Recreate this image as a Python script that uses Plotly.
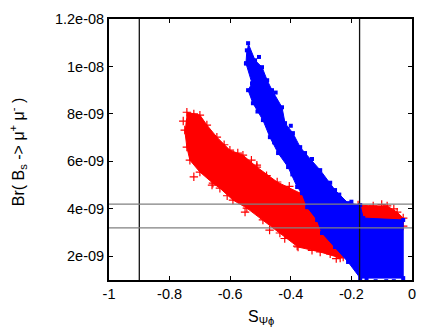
import plotly.graph_objects as go

# band outlines
red_x = [-0.743, -0.700, -0.677, -0.644, -0.601, -0.558, -0.512, -0.445, -0.369, -0.303,
         -0.178, -0.128, -0.082, -0.049, -0.029, -0.029, -0.161, -0.227, -0.237, -0.303,
         -0.376, -0.436, -0.492, -0.545, -0.591, -0.634, -0.657, -0.700, -0.733, -0.743, -0.750]
red_y = [8.07e-9, 7.95e-9, 7.53e-9, 7.02e-9, 6.47e-9, 6.26e-9, 5.76e-9, 5.13e-9, 4.66e-9, 4.37e-9,
         4.16e-9, 4.12e-9, 4.12e-9, 3.86e-9, 3.61e-9, 3.27e-9, 3.44e-9, 1.97e-9, 1.93e-9, 2.18e-9,
         2.39e-9, 2.98e-9, 3.53e-9, 4.03e-9, 4.37e-9, 4.87e-9, 5.08e-9, 5.55e-9, 6.05e-9, 6.60e-9, 7.32e-9]

blue_x = [-0.541, -0.518, -0.495, -0.478, -0.462, -0.429, -0.419, -0.393, -0.369, -0.353,
          -0.303, -0.254, -0.211, -0.171, -0.161, -0.029, -0.029, -0.171, -0.211, -0.254,
          -0.297, -0.313, -0.346, -0.363, -0.379, -0.409, -0.442, -0.469, -0.492, -0.525,
          -0.541, -0.528, -0.548, -0.545]
blue_y = [10.98e-9, 10.26e-9, 9.97e-9, 9.42e-9, 9.00e-9, 8.28e-9, 7.61e-9, 7.19e-9, 6.60e-9, 6.35e-9,
          5.63e-9, 4.79e-9, 4.24e-9, 4.16e-9, 3.61e-9, 3.53e-9, 1.08e-9, 1.08e-9, 1.76e-9, 2.39e-9,
          2.98e-9, 3.53e-9, 4.07e-9, 4.66e-9, 4.92e-9, 5.76e-9, 6.35e-9, 7.02e-9, 7.74e-9, 8.45e-9,
          9.00e-9, 9.29e-9, 10.13e-9, 10.68e-9]

# stray points outside the outlines
red_extra_x = [-0.379, -0.551, -0.512, -0.720, -0.610, -0.470, -0.330, -0.250, -0.620, -0.575,
               -0.530, -0.480, -0.405, -0.350, -0.660, -0.720, -0.755, -0.420, -0.270, -0.100, -0.060]
red_extra_y = [2.43e-9, 3.86e-9, 5.84e-9, 8.00e-9, 4.55e-9, 3.10e-9, 2.25e-9, 1.90e-9, 6.70e-9, 6.35e-9,
               6.05e-9, 5.40e-9, 4.95e-9, 4.50e-9, 5.00e-9, 5.35e-9, 7.70e-9, 2.75e-9, 2.10e-9, 4.18e-9, 4.00e-9]
blue_extra_x = [-0.548, -0.352, -0.290, -0.120, -0.060, -0.505, -0.450, -0.400, -0.330, -0.270,
                -0.240, -0.200, -0.510, -0.455, -0.395, -0.085, -0.150]
blue_extra_y = [10.13e-9, 5.90e-9, 5.20e-9, 0.95e-9, 0.95e-9, 10.40e-9, 8.90e-9, 7.50e-9, 6.10e-9, 5.10e-9,
                4.60e-9, 4.30e-9, 8.10e-9, 6.80e-9, 5.45e-9, 0.95e-9, 1.02e-9]

x_ticks = [-1, -0.8, -0.6, -0.4, -0.2, 0]
x_labels = ["-1", "-0.8", "-0.6", "-0.4", "-0.2", "0"]
y_ticks = [2e-9, 4e-9, 6e-9, 8e-9, 1e-8, 1.2e-8]
y_labels = ["2e-09", "4e-09", "6e-09", "8e-09", "1e-08", "1.2e-08"]

v_lines = [-0.9, -0.173]
h_lines = [4.2e-9, 3.2e-9]

fig = go.Figure()

# red band
fig.add_trace(go.Scatter(x=red_x, y=red_y, mode="lines", fill="toself", fillcolor="#ff0000",
                         line=dict(color="#ff0000", width=1), hoverinfo="skip"))
fig.add_trace(go.Scatter(x=red_x + red_extra_x, y=red_y + red_extra_y, mode="markers",
                         marker=dict(symbol="cross-thin", size=6, line=dict(color="#ff0000", width=1.2))))

# blue band
fig.add_trace(go.Scatter(x=blue_x, y=blue_y, mode="lines", fill="toself", fillcolor="#0000ff",
                         line=dict(color="#0000ff", width=1), hoverinfo="skip"))
fig.add_trace(go.Scatter(x=blue_x + blue_extra_x, y=blue_y + blue_extra_y, mode="markers",
                         marker=dict(symbol="square", size=4, color="#0000ff")))

for v in v_lines:
    fig.add_trace(go.Scatter(x=[v, v], y=[1e-9, 1.2e-8], mode="lines",
                             line=dict(color="#111111", width=1.3)))
for h in h_lines:
    fig.add_trace(go.Scatter(x=[-1, 0], y=[h, h], mode="lines",
                             line=dict(color="#808080", width=1.3)))

axis_style = dict(showgrid=False, zeroline=False, showline=True, linecolor="black", linewidth=2,
                  mirror="ticks", ticks="inside", ticklen=4, tickwidth=1, tickcolor="black",
                  automargin=False)

fig.update_layout(
    width=436, height=327, showlegend=False,
    margin=dict(l=101, r=32, t=11, b=55),
    paper_bgcolor="white", plot_bgcolor="white",
    font=dict(family="Liberation Sans", size=14.5, color="black"),
    xaxis=dict(range=[-1, 0], tickvals=x_ticks, ticktext=x_labels, **axis_style),
    yaxis=dict(range=[1e-9, 1.2e-8], tickvals=y_ticks, ticktext=y_labels, **axis_style),
    annotations=[
        dict(text="S<sub>Ψϕ</sub>", xref="paper", yref="paper", x=0.5, xanchor="center",
             y=-0.145, yanchor="middle", showarrow=False, font=dict(size=16)),
        dict(text="Br( B<sub>s</sub> -> μ<sup>+</sup> μ<sup>-</sup> )", xref="paper", yref="paper",
             x=-0.3, xanchor="center", y=0.49, yanchor="middle", textangle=-90, showarrow=False,
             font=dict(size=16)),
    ],
)

fig.write_html("out.html")
